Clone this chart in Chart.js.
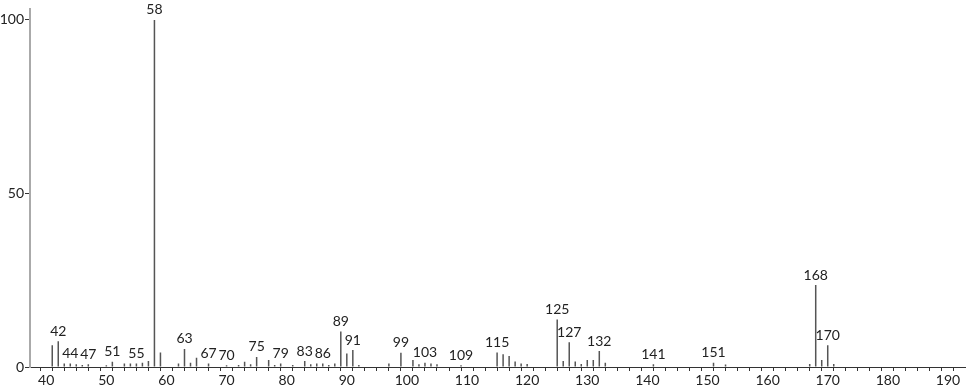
<!DOCTYPE html>
<html>
<head>
<meta charset="utf-8">
<script src="https://cdn.jsdelivr.net/npm/chart.js@4"></script>
<style>
  html, body { margin: 0; padding: 0; background: #fff; }
  #wrap { width: 966px; height: 389px; }
</style>
</head>
<body>
<div id="wrap"><canvas id="ms"></canvas></div>
<script>
// m/z と相対強度
const mzValues = [41, 42, 43, 44, 45, 46, 47, 50, 51, 53, 54, 55, 56, 57, 58, 59,
  62, 63, 64, 65, 67, 70, 72, 73, 74, 75, 77, 78, 79, 81, 83, 84, 85, 86, 87, 88, 89, 90, 91, 92,
  97, 99, 101, 102, 103, 104, 105, 109, 115, 116, 117, 118, 119, 120,
  125, 126, 127, 128, 129, 130, 131, 132, 133, 141, 151, 153, 167, 168, 169, 170, 171];
const intensities = [6.3, 7.4, 1.0, 1.0, 0.8, 0.6, 0.8, 0.5, 1.5, 1.0, 1.0, 1.0, 1.2, 1.7, 100, 4.2,
  1.0, 5.2, 1.2, 2.7, 1.0, 0.5, 0.6, 1.5, 0.8, 2.9, 2.0, 0.6, 1.0, 0.6, 1.7, 0.8, 1.0, 1.0, 0.6, 1.0, 10.2, 3.9, 4.9, 0.6,
  1.0, 4.1, 2.0, 0.8, 1.2, 1.0, 0.8, 0.5, 4.2, 3.7, 3.2, 1.6, 1.0, 0.9,
  13.7, 1.7, 7.1, 1.6, 0.9, 2.0, 2.0, 4.6, 1.2, 0.8, 1.2, 0.7, 0.9, 23.6, 2.0, 6.3, 0.9];

// ラベルを付けるピーク
const labeledPeaks = [42, 44, 47, 51, 55, 58, 63, 67, 70, 75, 79, 83, 86, 89, 91, 99, 103, 109,
  115, 125, 127, 132, 141, 151, 168, 170];

// 軸目盛
const yTickValues = [0, 50, 100];
const xLabelStep = 10;

const FONT = 'Lato, "Century Gothic", "DejaVu Sans", sans-serif';

const peakData = mzValues.map((mz, i) => ({ x: mz, y: intensities[i] }));

// ピーク上に m/z を描くプラグイン
const peakLabelPlugin = {
  id: 'peakLabels',
  afterDatasetsDraw(chart) {
    const ctx = chart.ctx;
    const xs = chart.scales.x;
    const ys = chart.scales.y;
    ctx.save();
    ctx.font = '14px ' + FONT;
    ctx.fillStyle = '#222';
    ctx.textAlign = 'center';
    ctx.textBaseline = 'bottom';
    labeledPeaks.forEach(mz => {
      const idx = mzValues.indexOf(mz);
      if (idx < 0) return;
      const px = xs.getPixelForValue(mz);
      const py = ys.getPixelForValue(intensities[idx]);
      ctx.fillText(String(mz), px, py - 3);
    });
    ctx.restore();
  }
};

new Chart(document.getElementById('ms'), {
  type: 'bar',
  data: {
    datasets: [{
      data: peakData,
      backgroundColor: '#555',
      borderWidth: 0,
      inflateAmount: 0,
      barThickness: 1.5
    }]
  },
  options: {
    responsive: true,
    maintainAspectRatio: false,
    animation: false,
    layout: { padding: 0 },
    plugins: { legend: { display: false }, tooltip: { enabled: false } },
    scales: {
      x: {
        type: 'linear',
        min: 37.3,
        max: 193,
        offset: false,
        afterFit: (scale) => { scale.height = 22; },
        afterBuildTicks: (scale) => {
          const ticks = [];
          for (let v = 38; v <= 192; v += 2) ticks.push({ value: v });
          scale.ticks = ticks;
        },
        grid: { drawOnChartArea: false, drawTicks: true, tickLength: 4, color: '#333' },
        border: { display: true, color: '#333', width: 1 },
        ticks: {
          autoSkip: false,
          maxRotation: 0,
          padding: 1,
          color: '#222',
          font: { family: FONT, size: 14 },
          callback: (v) => (v % xLabelStep === 0 ? String(v) : '')
        }
      },
      y: {
        min: 0,
        max: 103.05,
        afterFit: (scale) => { scale.width = 30; },
        afterBuildTicks: (scale) => {
          scale.ticks = yTickValues.map(v => ({ value: v }));
        },
        grid: { drawOnChartArea: false, drawTicks: true, tickLength: 5, color: '#333' },
        border: { display: true, color: '#aaa', width: 2 },
        ticks: {
          padding: 1,
          color: '#222',
          font: { family: FONT, size: 14 }
        }
      }
    }
  },
  plugins: [peakLabelPlugin]
});
</script>
</body>
</html>
